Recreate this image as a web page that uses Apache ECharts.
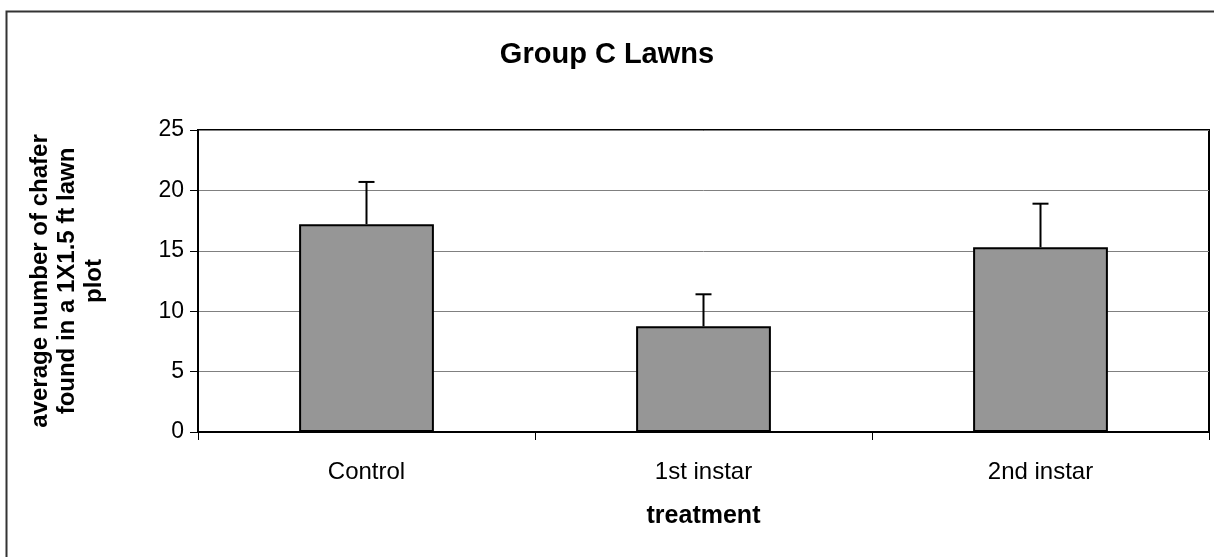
<!DOCTYPE html>
<html><head><meta charset="utf-8">
<script src="https://cdn.jsdelivr.net/npm/echarts@6/dist/echarts.min.js"></script>
<style>html,body{margin:0;padding:0;background:#fff}#c{width:1214px;height:557px}</style>
</head><body><div id="c"></div>
<script>
const categories = ['Control', '1st instar', '2nd instar'];
const means = [17.2, 8.75, 15.3];
const errorTops = [20.7, 11.4, 18.9];
const yTicks = [0, 5, 10, 15, 20, 25];

const chart = echarts.init(document.getElementById('c'));
const F = '"Liberation Sans", Arial, sans-serif';
chart.setOption({
  animation: false,
  backgroundColor: '#fff',
  title: {
    text: 'Group C Lawns', left: 'center', top: 35,
    textStyle: { fontFamily: F, fontSize: 29, fontWeight: 'bold', color: '#000' }
  },
  graphic: [{
    type: 'rect', left: 4, top: 9, shape: { width: 1300, height: 700 },
    style: { fill: 'none', stroke: '#333', lineWidth: 2 }, silent: true, z: -1
  }],
  grid: { left: 198, right: 5, top: 130, bottom: 125, show: true, borderColor: '#000', borderWidth: 2,
    containLabel: false, outerBoundsMode: 'none' },
  xAxis: {
    type: 'category', data: categories,
    name: 'treatment', nameLocation: 'middle', nameGap: 72,
    nameTextStyle: { fontFamily: F, fontSize: 25, fontWeight: 'bold', color: '#000' },
    axisLine: { lineStyle: { color: '#000', width: 2 } },
    axisTick: { show: true, alignWithLabel: false, length: 8, lineStyle: { color: '#000', width: 1 } },
    axisLabel: { fontFamily: F, fontSize: 24, color: '#000', margin: 28 }
  },
  yAxis: {
    type: 'value', min: 0, max: 25, interval: 5,
    name: 'average number of chafer\nfound in a 1X1.5 ft lawn\nplot',
    nameLocation: 'middle', nameGap: 90, nameRotate: 90,
    nameTextStyle: { fontFamily: F, fontSize: 24, fontWeight: 'bold', color: '#000', lineHeight: 27, align: 'center' },
    axisLine: { show: true, lineStyle: { color: '#000', width: 2 } },
    axisTick: { show: true, length: 8, lineStyle: { color: '#000', width: 1 } },
    axisLabel: { fontFamily: F, fontSize: 23, color: '#000', margin: 14,
      formatter: v => yTicks.includes(v) ? String(v) : '' },
    splitLine: { lineStyle: { color: '#808080', width: 1 } }
  },
  series: [{
    type: 'bar', data: means, barWidth: '40%',
    itemStyle: { color: '#969696', borderColor: '#000', borderWidth: 2 }
  }, {
    type: 'custom', z: 5,
    data: categories.map((c, i) => [i, means[i], errorTops[i]]),
    renderItem: function (params, api) {
      const base = api.coord([api.value(0), api.value(1)]);
      const top = api.coord([api.value(0), api.value(2)]);
      const x = base[0];
      return { type: 'group', children: [
        { type: 'line', shape: { x1: x, y1: base[1], x2: x, y2: top[1] }, style: { stroke: '#000', lineWidth: 2 } },
        { type: 'line', shape: { x1: x - 8, y1: top[1], x2: x + 8, y2: top[1] }, style: { stroke: '#000', lineWidth: 2 } }
      ] };
    }
  }]
});
</script></body></html>
